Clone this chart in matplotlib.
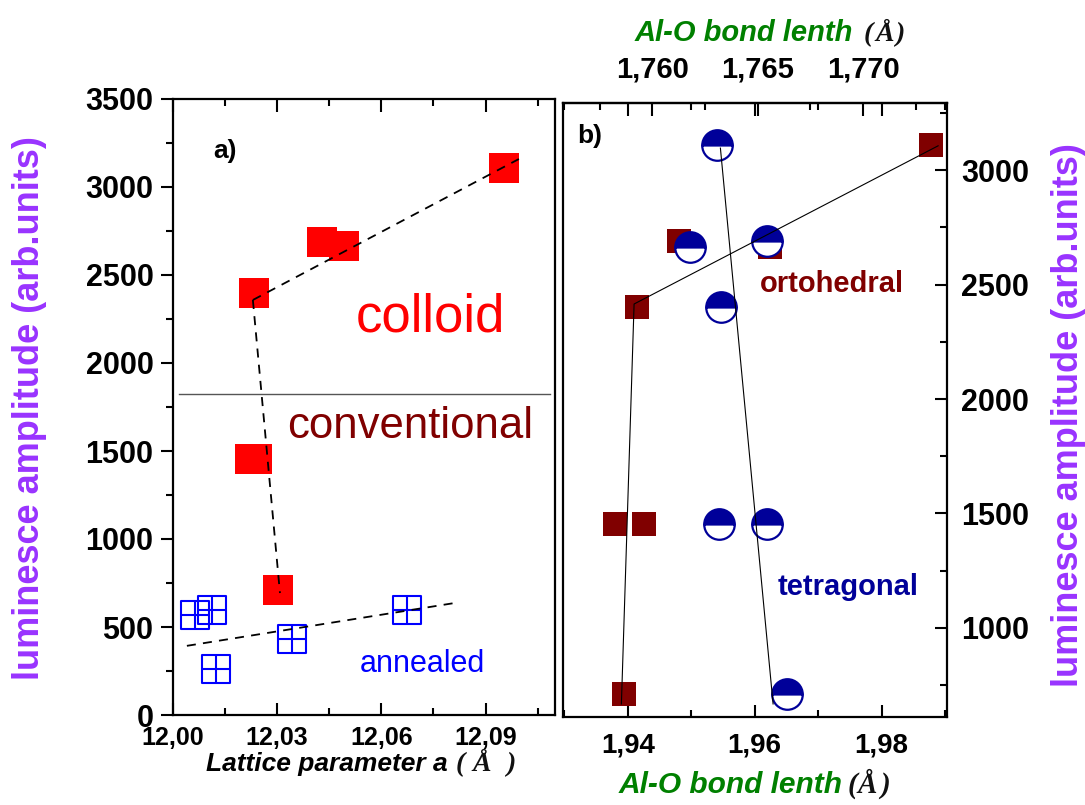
import matplotlib
matplotlib.use("Agg")
import matplotlib.pyplot as plt
from matplotlib.path import Path
from matplotlib.ticker import FixedLocator, MultipleLocator

# ---- data -------------------------------------------------------------
# luminescence amplitudes (arb. units)
colloid_amp = [2400, 2690, 2665, 3110]
conv_amp = [1456, 1456, 710]
annealed_amp = [568, 597, 261, 432, 597]

# lattice parameter a (Angstrom)
colloid_a = [12.0233, 12.0428, 12.0492, 12.0953]
conv_a = [12.0223, 12.0243, 12.0302]
annealed_a = [12.0063, 12.0112, 12.0124, 12.0343, 12.0674]

# dashed guide lines in panel a)
colloid_fit_a = [12.0230, 12.0996]
colloid_fit_amp = [2358, 3159]
conv_fit_a = [12.0230, 12.0308]
conv_fit_amp = [2358, 693]
annealed_fit_a = [12.0040, 12.0810]
annealed_fit_amp = [393, 636]

# panel b): Al-O bond lengths (Angstrom)
amp_b = [2400, 2690, 2665, 3110, 1456, 1456, 710]
ortho_r = [1.9415, 1.9481, 1.9624, 1.9878, 1.9380, 1.9426, 1.9394]
tetra_r = [1.9547, 1.9620, 1.9498, 1.9541, 1.9544, 1.9620, 1.9651]

ortho_line_r = [1.9390, 1.9410, 1.9889]
ortho_line_amp = [668, 2415, 3106]
tetra_line_r = [1.9546, 1.9629]
tetra_line_amp = [3096, 668]

# tick labels
a_ticks = [12.00, 12.03, 12.06, 12.09]
a_labels = ["12,00", "12,03", "12,06", "12,09"]
amp_ticks_a = [0, 500, 1000, 1500, 2000, 2500, 3000, 3500]
r_ticks = [1.94, 1.96, 1.98]
r_labels = ["1,94", "1,96", "1,98"]
amp_ticks_b = [1000, 1500, 2000, 2500, 3000]
top_ticks = [1.760, 1.765, 1.770]
top_labels = ["1,760", "1,765", "1,770"]

# ---- style ------------------------------------------------------------
plt.rcParams["font.family"] = ["Liberation Sans", "DejaVu Sans"]
plt.rcParams["font.weight"] = "bold"

RED = "#ff0000"
DARKRED = "#800000"
BLUE = "#0000ff"
NAVY = "#000099"
GREEN = "#008000"
VIOLET = "#9933ff"

W, H = 1085, 805
fig = plt.figure(figsize=(W / 100, H / 100), dpi=100)


def fx(px):
    return px / W


def fy(py):
    return 1 - py / H


ax1 = fig.add_axes([fx(173), fy(715), (555 - 173) / W, (715 - 99) / H])
ax2 = fig.add_axes([fx(563), fy(717), (947 - 563) / W, (717 - 103) / H])

for ax in (ax1, ax2):
    for s in ax.spines.values():
        s.set_linewidth(1.6)

# ---- panel a) ---------------------------------------------------------
ax1.set_xlim(12.0, 12.11)
ax1.set_ylim(0, 3500)

ax1.plot(colloid_fit_a, colloid_fit_amp, color="black", lw=1.3, dashes=(5, 4), zorder=3)
ax1.plot(conv_fit_a, conv_fit_amp, color="black", lw=1.3, dashes=(5, 4), zorder=3)
ax1.plot(annealed_fit_a, annealed_fit_amp, color="black", lw=1.3, dashes=(5, 4), zorder=3)

ax1.plot(colloid_a, colloid_amp, ls="none", marker="s", ms=21, mfc=RED, mec=RED, mew=0, zorder=2)
ax1.plot(conv_a, conv_amp, ls="none", marker="s", ms=21, mfc=RED, mec=RED, mew=0, zorder=2)

box_plus = Path(
    [(-1, -1), (1, -1), (1, 1), (-1, 1), (-1, -1), (0, -1), (0, 1), (-1, 0), (1, 0)],
    [Path.MOVETO, Path.LINETO, Path.LINETO, Path.LINETO, Path.CLOSEPOLY,
     Path.MOVETO, Path.LINETO, Path.MOVETO, Path.LINETO],
)
ax1.plot(annealed_a, annealed_amp, ls="none", marker=box_plus, ms=20, mfc="none",
         mec=BLUE, mew=1.5, zorder=2)

ax1.axhline(1825, xmin=0.016, xmax=0.987, color="#555555", lw=1.0)

ax1.xaxis.set_major_locator(FixedLocator(a_ticks))
ax1.set_xticklabels(a_labels)
ax1.xaxis.set_minor_locator(MultipleLocator(0.015))
ax1.yaxis.set_major_locator(FixedLocator(amp_ticks_a))
ax1.yaxis.set_minor_locator(MultipleLocator(250))

ax1.tick_params(axis="y", which="both", direction="out", left=True, right=False,
                width=1.5, labelsize=22, pad=5)
ax1.tick_params(axis="y", which="major", length=9)
ax1.tick_params(axis="y", which="minor", length=5)
ax1.tick_params(axis="x", which="both", direction="in", bottom=True, top=True,
                width=1.5, labelsize=18, pad=8)
ax1.tick_params(axis="x", which="major", length=9)
ax1.tick_params(axis="x", which="minor", length=5)

ax1.text(0.105, 0.904, "a)", transform=ax1.transAxes, fontsize=19,
         fontweight="bold", ha="left", va="baseline")
ax1.text(0.673, 0.622, "colloid", transform=ax1.transAxes, fontsize=38,
         fontweight="normal", color=RED, ha="center", va="baseline")
ax1.text(0.620, 0.450, "conventional", transform=ax1.transAxes, fontsize=31.5,
         fontweight="normal", color=DARKRED, ha="center", va="baseline")
ax1.text(0.654, 0.070, "annealed", transform=ax1.transAxes, fontsize=22,
         fontweight="normal", color=BLUE, ha="center", va="baseline")

# ---- panel b) ---------------------------------------------------------
ax2.set_xlim(1.9298, 1.9903)
ax2.set_ylim(611, 3293)

ax2.plot(ortho_line_r, ortho_line_amp, color="black", lw=0.8, zorder=4)
ax2.plot(tetra_line_r, tetra_line_amp, color="black", lw=0.8, zorder=4)

ax2.plot(ortho_r, amp_b, ls="none", marker="s", ms=17, mfc=DARKRED, mec=DARKRED,
         mew=0, zorder=2)
ax2.plot(tetra_r, amp_b, ls="none", marker="o", ms=22, fillstyle="top",
         mfc=NAVY, mfcalt="white", mec=NAVY, mew=1.6, zorder=3)

ax2.xaxis.set_major_locator(FixedLocator(r_ticks))
ax2.set_xticklabels(r_labels)
ax2.xaxis.set_minor_locator(MultipleLocator(0.01))
ax2.yaxis.set_major_locator(FixedLocator(amp_ticks_b))
ax2.yaxis.set_minor_locator(MultipleLocator(250))
ax2.yaxis.tick_right()

ax2.tick_params(axis="x", which="both", direction="in", bottom=True, top=True,
                width=1.5, labelsize=20, pad=11)
ax2.tick_params(axis="x", which="major", length=9)
ax2.tick_params(axis="x", which="minor", length=5)
ax2.tick_params(axis="y", which="both", direction="in", left=False, right=True,
                labelleft=False, labelright=True, width=1.5, labelsize=22, pad=10)
ax2.tick_params(axis="y", which="major", length=9)
ax2.tick_params(axis="y", which="minor", length=5)


def r_to_top(r):
    return 1.760 + (r - 1.94386) * 0.3009


def top_to_r(t):
    return 1.94386 + (t - 1.760) / 0.3009


top = ax2.secondary_xaxis("top", functions=(r_to_top, top_to_r))
top.xaxis.set_major_locator(FixedLocator(top_ticks))
top.set_xticklabels(top_labels)
top.xaxis.set_minor_locator(MultipleLocator(0.0025))
top.tick_params(which="both", direction="in", width=1.5, labelsize=21, pad=14)
top.tick_params(which="major", length=9)
top.tick_params(which="minor", length=5)
top.spines["top"].set_linewidth(1.6)

ax2.text(0.036, 0.935, "b)", transform=ax2.transAxes, fontsize=19,
         fontweight="bold", ha="left", va="baseline")
ax2.text(0.70, 0.692, "ortohedral", transform=ax2.transAxes, fontsize=21,
         fontweight="bold", color=DARKRED, ha="center", va="baseline")
ax2.text(0.742, 0.199, "tetragonal", transform=ax2.transAxes, fontsize=21,
         fontweight="bold", color=NAVY, ha="center", va="baseline")

# ---- axis titles ------------------------------------------------------
SERIF = ["Liberation Serif", "DejaVu Serif"]


def axis_title(x_end, y_base, words, color, size, unit_x, unit_size):
    """Bold italic words ending at x_end, then a serif '( Å )' group whose
    three glyphs start at the pixel offsets given in unit_x."""
    fig.text(fx(x_end), fy(y_base), words, fontsize=size, fontweight="bold",
             fontstyle="italic", color=color, ha="right", va="baseline")
    for glyph, px in zip(("(", "Å", ")"), unit_x):
        fig.text(fx(px), fy(y_base), glyph, fontsize=unit_size,
                 fontweight="bold", fontstyle="italic", family=SERIF,
                 color="#111111", ha="left", va="baseline")


axis_title(448, 771, "Lattice parameter a", "black", 19, (456, 472, 506), 20)
axis_title(843, 793, "Al-O bond lenth", GREEN, 21.5, (848, 858, 880), 21)
axis_title(853, 41, "Al-O bond lenth", GREEN, 21, (864, 875, 895), 20)

fig.text(fx(30), fy(408), "luminesce amplitude (arb.units)", rotation=90,
         fontsize=26, fontweight="bold", color=VIOLET, ha="center", va="center")
fig.text(fx(1068), fy(415), "luminesce amplitude (arb.units)", rotation=90,
         fontsize=26, fontweight="bold", color=VIOLET, ha="center", va="center")

fig.savefig("out.png", dpi=100)
